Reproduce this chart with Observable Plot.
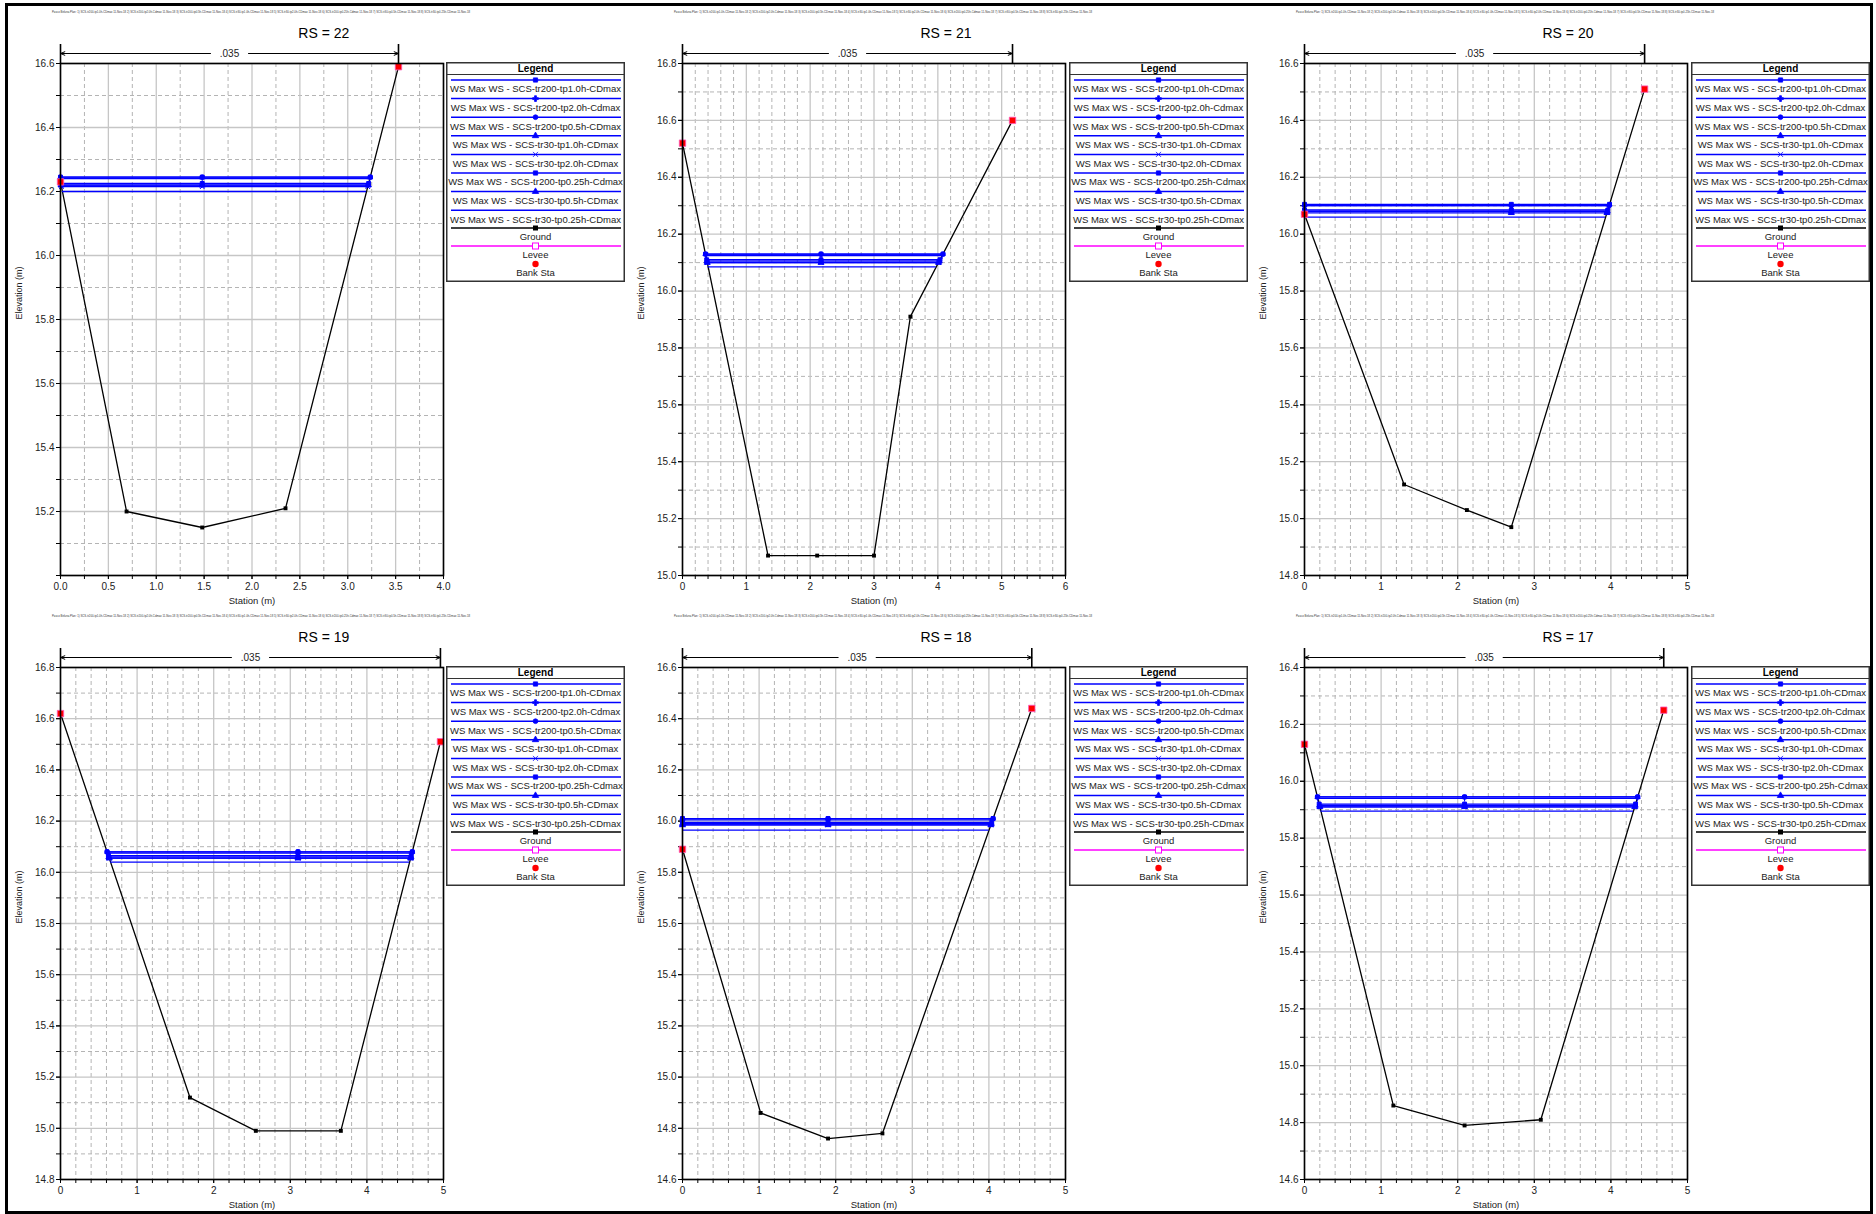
<!DOCTYPE html>
<html><head><meta charset="utf-8">
<script src="https://cdn.jsdelivr.net/npm/d3@7"></script>
<script src="https://cdn.jsdelivr.net/npm/@observablehq/plot@0.6"></script>
<style>
body{margin:0;background:#fff;font-family:"Liberation Sans",Arial,sans-serif;}
#page{position:relative;width:1876px;height:1214px;overflow:hidden;background:#fff;}
#border{position:absolute;left:5px;top:3px;width:1868px;height:1211px;border:3px solid #000;box-sizing:border-box;}
.title{position:absolute;font-size:14px;transform:translate(-50%,-50%);white-space:nowrap;color:#000;}
</style></head>
<body><div id="page"><div id="border"></div></div>
<script>
// ---------- data ----------
const planNames = [
  "WS Max WS - SCS-tr200-tp1.0h-CDmax",
  "WS Max WS - SCS-tr200-tp2.0h-Cdmax",
  "WS Max WS - SCS-tr200-tp0.5h-CDmax",
  "WS Max WS - SCS-tr30-tp1.0h-CDmax",
  "WS Max WS - SCS-tr30-tp2.0h-CDmax",
  "WS Max WS - SCS-tr200-tp0.25h-Cdmax",
  "WS Max WS - SCS-tr30-tp0.5h-CDmax",
  "WS Max WS - SCS-tr30-tp0.25h-CDmax"
];
const planSymbols = ["square", "plus", "circle", "triangle", "times", "square", "triangle", null];
const rsTitles = ["RS = 22", "RS = 21", "RS = 20", "RS = 19", "RS = 18", "RS = 17"];
const nValue = ".035";

const rs22Sta = [0, 0.69, 1.48, 2.35, 3.53];
const rs22Elev = [16.23, 15.20, 15.15, 15.21, 16.59];
const rs22WS = [16.245, 16.24, 16.245, 16.22, 16.215, 16.225, 16.22, 16.20];
const rs22Mid = 1.48;

const rs21Sta = [0, 1.34, 2.11, 3.00, 3.57, 5.17];
const rs21Elev = [16.52, 15.07, 15.07, 15.07, 15.91, 16.60];
const rs21WS = [16.13, 16.125, 16.13, 16.105, 16.10, 16.11, 16.10, 16.085];
const rs21Mid = 2.17;

const rs20Sta = [0, 1.30, 2.12, 2.70, 4.44];
const rs20Elev = [16.07, 15.12, 15.03, 14.97, 16.51];
const rs20WS = [16.105, 16.10, 16.10, 16.08, 16.08, 16.085, 16.075, 16.06];
const rs20Mid = 2.70;

const rs19Sta = [0, 1.69, 2.55, 3.66, 4.96];
const rs19Elev = [16.62, 15.12, 14.99, 14.99, 16.51];
const rs19WS = [16.08, 16.075, 16.08, 16.06, 16.055, 16.065, 16.055, 16.04];
const rs19Mid = 3.10;

const rs18Sta = [0, 1.02, 1.90, 2.61, 4.56];
const rs18Elev = [15.89, 14.86, 14.76, 14.78, 16.44];
const rs18WS = [16.01, 16.005, 16.01, 15.99, 15.985, 15.995, 15.985, 15.965];
const rs18Mid = 1.90;

const rs17Sta = [0, 1.16, 2.09, 3.085, 4.69];
const rs17Elev = [16.13, 14.86, 14.79, 14.81, 16.25];
const rs17WS = [15.945, 15.94, 15.945, 15.915, 15.91, 15.92, 15.91, 15.895];
const rs17Mid = 2.09;

// axis ticks
const xTicks22 = [0, 0.5, 1, 1.5, 2, 2.5, 3, 3.5, 4];
const xTicks21 = [0, 1, 2, 3, 4, 5, 6];
const xTicks5 = [0, 1, 2, 3, 4, 5];
const yTicks22 = [15.2, 15.4, 15.6, 15.8, 16.0, 16.2, 16.4, 16.6];
const yTicks21 = [15.0, 15.2, 15.4, 15.6, 15.8, 16.0, 16.2, 16.4, 16.6, 16.8];
const yTicks20 = [14.8, 15.0, 15.2, 15.4, 15.6, 15.8, 16.0, 16.2, 16.4, 16.6];
const yTicks19 = [14.8, 15.0, 15.2, 15.4, 15.6, 15.8, 16.0, 16.2, 16.4, 16.6, 16.8];
const yTicks18 = [14.6, 14.8, 15.0, 15.2, 15.4, 15.6, 15.8, 16.0, 16.2, 16.4, 16.6];
const yTicks17 = [14.6, 14.8, 15.0, 15.2, 15.4, 15.6, 15.8, 16.0, 16.2, 16.4];

const panels = [
  {title: rsTitles[0], sta: rs22Sta, elev: rs22Elev, ws: rs22WS, mid: rs22Mid, xDom: [0, 4], yDom: [15.0, 16.6], xTicks: xTicks22, xMinor: 0.25, yTicks: yTicks22, xFmt: d3.format(".1f")},
  {title: rsTitles[1], sta: rs21Sta, elev: rs21Elev, ws: rs21WS, mid: rs21Mid, xDom: [0, 6], yDom: [15.0, 16.8], xTicks: xTicks21, xMinor: 0.2, yTicks: yTicks21, xFmt: d3.format("d")},
  {title: rsTitles[2], sta: rs20Sta, elev: rs20Elev, ws: rs20WS, mid: rs20Mid, xDom: [0, 5], yDom: [14.8, 16.6], xTicks: xTicks5, xMinor: 0.2, yTicks: yTicks20, xFmt: d3.format("d")},
  {title: rsTitles[3], sta: rs19Sta, elev: rs19Elev, ws: rs19WS, mid: rs19Mid, xDom: [0, 5], yDom: [14.8, 16.8], xTicks: xTicks5, xMinor: 0.2, yTicks: yTicks19, xFmt: d3.format("d")},
  {title: rsTitles[4], sta: rs18Sta, elev: rs18Elev, ws: rs18WS, mid: rs18Mid, xDom: [0, 5], yDom: [14.6, 16.6], xTicks: xTicks5, xMinor: 0.2, yTicks: yTicks18, xFmt: d3.format("d")},
  {title: rsTitles[5], sta: rs17Sta, elev: rs17Elev, ws: rs17WS, mid: rs17Mid, xDom: [0, 5], yDom: [14.6, 16.4], xTicks: xTicks5, xMinor: 0.2, yTicks: yTicks17, xFmt: d3.format("d")}
];

// ---------- layout ----------
const colLeft = [59.8, 682, 1304];
const rowTop = [63.4, 667.2];
const FW = 383, FH = 512;
const ML = 50, MT = 40, MB = 50, MR = 8;
const FONT = '"Liberation Sans", Arial, sans-serif';

function wsExtent(ground, w) {
  let x1 = ground[0].x, x2 = ground[ground.length - 1].x;
  if (ground[0].y > w) {
    for (let i = 0; i < ground.length - 1; i++) {
      const a = ground[i], b = ground[i + 1];
      if (a.y >= w && b.y < w) { x1 = a.x + (a.y - w) / (a.y - b.y) * (b.x - a.x); break; }
    }
  }
  const n = ground.length;
  if (ground[n - 1].y > w) {
    for (let i = n - 1; i > 0; i--) {
      const a = ground[i], b = ground[i - 1];
      if (a.y >= w && b.y < w) { x2 = a.x - (a.y - w) / (a.y - b.y) * (a.x - b.x); break; }
    }
  }
  return [x1, x2];
}

const page = document.getElementById("page");

const headerText = "Pasco Beluna   Plan:  1) SCS-tr200-tp1.0h-CDmax  11-Nov-18  2) SCS-tr200-tp2.0h-Cdmax  11-Nov-18  3) SCS-tr200-tp0.5h-CDmax  11-Nov-18  4) SCS-tr30-tp1.0h-CDmax  11-Nov-18  5) SCS-tr30-tp2.0h-CDmax  11-Nov-18  6) SCS-tr200-tp0.25h-Cdmax  11-Nov-18  7) SCS-tr30-tp0.5h-CDmax  11-Nov-18  8) SCS-tr30-tp0.25h-CDmax  11-Nov-18";

panels.forEach((p, idx) => {
  const col = idx % 3, row = Math.floor(idx / 3);
  const fl = colLeft[col], ft = rowTop[row];
  const ground = p.sta.map((s, i) => ({x: s, y: p.elev[i]}));
  const wsLines = p.ws.map((w, k) => { const [x1, x2] = wsExtent(ground, w); return {k, w, x1, x2}; });
  const wsMarks = wsLines.flatMap(d => planSymbols[d.k] ? [d.x1, p.mid, d.x2].map(x => ({x, y: d.w, k: d.k})) : []);
  const banks = [ground[0], ground[ground.length - 1]];
  const bankR = banks[1].x;
  const xMinorTicks = d3.range(p.xDom[0], p.xDom[1] + 1e-9, p.xMinor).map(v => +v.toFixed(3));
  const yMinorTicks = d3.range(p.yDom[0], p.yDom[1] + 1e-9, 0.1).map(v => +v.toFixed(3));
  const yMajorAll = d3.range(p.yDom[0], p.yDom[1] + 1e-9, 0.2).map(v => +v.toFixed(3));
  const yMinorOnly = yMinorTicks.filter(v => !yMajorAll.some(m => Math.abs(m - v) < 1e-6));
  const xMinorOnly = xMinorTicks.filter(v => !p.xTicks.some(m => Math.abs(m - v) < 1e-6));
  const ytop = p.yDom[1];

  const chart = Plot.plot({
    width: ML + FW + MR, height: MT + FH + MB,
    marginLeft: ML, marginTop: MT, marginBottom: MB, marginRight: MR,
    x: {domain: p.xDom, axis: null, label: null},
    y: {domain: p.yDom, axis: null, label: null},
    style: {fontFamily: FONT, fontSize: "10px", color: "#000", background: "transparent", overflow: "visible"},
    marks: [
      Plot.ruleX(xMinorOnly, {stroke: "#b4b4b4", strokeWidth: 1, strokeDasharray: "4,3"}),
      Plot.ruleY(yMinorOnly, {stroke: "#b4b4b4", strokeWidth: 1, strokeDasharray: "4,3"}),
      Plot.ruleX(p.xTicks, {stroke: "#c6c6c6", strokeWidth: 1.3}),
      Plot.ruleY(yMajorAll, {stroke: "#c6c6c6", strokeWidth: 1.3}),
      Plot.axisX({ticks: xMinorTicks, tickSize: 4, tickFormat: () => "", stroke: "#000"}),
      Plot.axisX({ticks: p.xTicks, tickSize: 4, tickPadding: 3, tickFormat: p.xFmt, fontSize: 10, fill: "#222"}),
      Plot.axisY({ticks: yMinorTicks, tickSize: 4, tickFormat: () => "", stroke: "#000"}),
      Plot.axisY({ticks: p.yTicks, tickSize: 4, tickPadding: 2, tickFormat: d3.format(".1f"), fontSize: 10, fill: "#222"}),
      Plot.line(ground, {x: "x", y: "y", stroke: "#000", strokeWidth: 1.3}),
      Plot.dot(ground.slice(1, -1), {x: "x", y: "y", symbol: "square", r: 2.2, fill: "#000"}),
      Plot.ruleY(wsLines, {y: "w", x1: "x1", x2: "x2", stroke: "#0000ff", strokeWidth: 1.3}),
      Plot.dot(wsMarks, {x: "x", y: "y", symbol: d => planSymbols[d.k], r: 2.2, fill: "#0000ff", stroke: "#0000ff", strokeWidth: 1}),
      Plot.dot(banks, {x: "x", y: "y", symbol: "square", r: 3.6, fill: "#ff0000", stroke: "#ff55bb", strokeWidth: 0.8}),
      Plot.frame({stroke: "#000", strokeWidth: 1.6}),
      Plot.ruleX([0, bankR], {stroke: "#000", strokeWidth: 1.6, insetTop: -19, insetBottom: FH}),
      Plot.arrow([{x1: bankR / 2, x2: 0}, {x1: bankR / 2, x2: bankR}], {x1: "x1", x2: "x2", y1: () => ytop, y2: () => ytop, dy: -10, insetStart: 19, headLength: 7, headAngle: 45, stroke: "#000", strokeWidth: 1}),
      Plot.text([nValue], {x: () => bankR / 2, y: () => ytop, text: d => d, dy: -10, fontSize: 10, fill: "#222"}),
      Plot.text(["Elevation (m)"], {frameAnchor: "left", text: d => d, rotate: -90, dx: -41, fontSize: 9, fill: "#222"}),
      Plot.text(["Station (m)"], {frameAnchor: "bottom", text: d => d, dy: 25, lineAnchor: "middle", fontSize: 9.5, fill: "#222"})
    ]
  });
  chart.style.position = "absolute";
  chart.style.left = (fl - ML) + "px";
  chart.style.top = (ft - MT) + "px";
  page.appendChild(chart);

  // title
  const t = document.createElement("div");
  t.className = "title";
  t.textContent = p.title;
  t.style.left = (fl + 264) + "px";
  t.style.top = (ft - 30) + "px";
  page.appendChild(t);

  // tiny header line (plan description strip)
  const hs = d3.create("svg").attr("width", 700).attr("height", 10)
    .style("position", "absolute").style("left", (fl - 9) + "px").style("top", (ft - 56) + "px")
    .style("overflow", "visible");
  hs.append("text").attr("x", 1).attr("y", 6).attr("font-size", 3).attr("fill", "#333")
    .attr("font-family", FONT).attr("textLength", 418).attr("lengthAdjust", "spacingAndGlyphs").text(headerText);
  page.appendChild(hs.node());

  // legend
  const LW = 179, LH = 220;
  const lg = d3.create("svg").attr("width", LW).attr("height", LH)
    .style("position", "absolute").style("left", (fl + 386.5) + "px").style("top", (ft - 1.2) + "px")
    .attr("font-family", FONT);
  lg.append("rect").attr("x", 0.75).attr("y", 0.75).attr("width", LW - 1.5).attr("height", LH - 1.5)
    .attr("fill", "#fff").attr("stroke", "#333").attr("stroke-width", 1.5);
  lg.append("text").attr("x", LW / 2).attr("y", 6.5).attr("dy", "0.35em").attr("text-anchor", "middle")
    .attr("font-size", 10).attr("font-weight", "bold").text("Legend");
  lg.append("line").attr("x1", 0).attr("x2", LW).attr("y1", 12.5).attr("y2", 12.5).attr("stroke", "#333").attr("stroke-width", 1.2);
  const cx = LW / 2;
  const symMap = {square: d3.symbolSquare, plus: d3.symbolCross, circle: d3.symbolCircle, triangle: d3.symbolTriangle, times: d3.symbolTimes};
  planNames.forEach((name, i) => {
    const ly = 18 + i * 18.6;
    lg.append("line").attr("x1", 5).attr("x2", LW - 4).attr("y1", ly).attr("y2", ly).attr("stroke", "#0000ff").attr("stroke-width", 1.5);
    if (planSymbols[i]) {
      lg.append("path").attr("d", d3.symbol(symMap[planSymbols[i]], 18)())
        .attr("transform", `translate(${cx},${ly})`).attr("fill", "#0000ff").attr("stroke", "#0000ff").attr("stroke-width", 0.8);
    }
    lg.append("text").attr("x", cx).attr("y", ly + 9).attr("dy", "0.35em").attr("text-anchor", "middle")
      .attr("font-size", 9.5).attr("fill", "#222").text(name);
  });
  // Ground
  lg.append("line").attr("x1", 5).attr("x2", LW - 4).attr("y1", 166).attr("y2", 166).attr("stroke", "#000").attr("stroke-width", 1.5);
  lg.append("rect").attr("x", cx - 2.5).attr("y", 163.5).attr("width", 5).attr("height", 5).attr("fill", "#000");
  lg.append("text").attr("x", cx).attr("y", 174.5).attr("dy", "0.35em").attr("text-anchor", "middle").attr("font-size", 9.5).attr("fill", "#222").text("Ground");
  // Levee
  lg.append("line").attr("x1", 5).attr("x2", LW - 4).attr("y1", 184).attr("y2", 184).attr("stroke", "#ff00ff").attr("stroke-width", 1.5);
  lg.append("rect").attr("x", cx - 3).attr("y", 181).attr("width", 6).attr("height", 6).attr("fill", "#fff").attr("stroke", "#ff00ff").attr("stroke-width", 1);
  lg.append("text").attr("x", cx).attr("y", 193).attr("dy", "0.35em").attr("text-anchor", "middle").attr("font-size", 9.5).attr("fill", "#222").text("Levee");
  // Bank Sta
  lg.append("circle").attr("cx", cx).attr("cy", 202).attr("r", 3.2).attr("fill", "#ff0000");
  lg.append("text").attr("x", cx).attr("y", 210.5).attr("dy", "0.35em").attr("text-anchor", "middle").attr("font-size", 9.5).attr("fill", "#222").text("Bank Sta");
  page.appendChild(lg.node());
});
</script>
</body></html>
